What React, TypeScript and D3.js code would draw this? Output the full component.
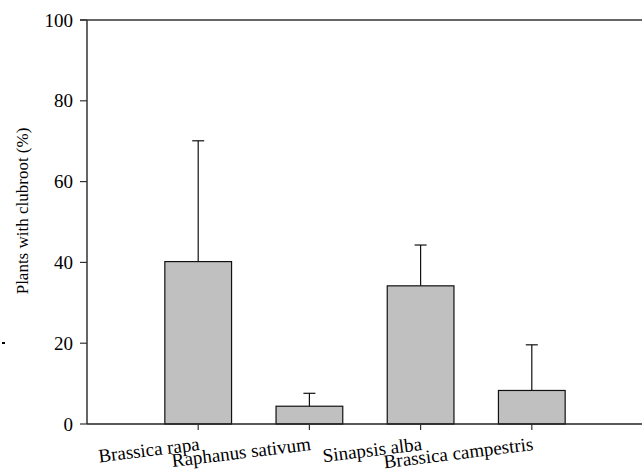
import React from 'react';
import * as d3 from 'd3';

// Clubroot incidence per host species (mean and upper error)
const species = ['Brassica rapa', 'Raphanus sativum', 'Sinapsis alba', 'Brassica campestris'];
const meanPct = [40.2, 4.4, 34.2, 8.3];
const errTop = [70.1, 7.6, 44.3, 19.6];
const yTicks = [0, 20, 40, 60, 80, 100];

const W = 642;
const H = 473;
const left = 87;
const right = 643;
const top = 20;
const bottom = 424;
const serif = { fontFamily: '"Liberation Serif"' };

export default function App() {
  const x = d3.scaleLinear().domain([0, species.length + 1]).range([left, right]);
  const y = d3.scaleLinear().domain([0, 100]).range([bottom, top]);
  const step = x(1) - x(0);
  const barW = step * 0.6;
  const capW = 12;

  return (
    <svg width={W} height={H} style={{ position: 'absolute', left: 0, top: 0, background: '#fff' }}>
      {/* frame lines */}
      <line x1={80} x2={right} y1={y(100)} y2={y(100)} stroke="#333" strokeWidth={1.5} />
      <line x1={left} x2={left} y1={top} y2={bottom} stroke="#333" strokeWidth={1.5} />

      {/* bars + upper error bars */}
      {species.map((s, i) => {
        const cx = x(i + 1);
        return (
          <g key={s}>
            <line x1={cx} x2={cx} y1={y(meanPct[i])} y2={y(errTop[i])} stroke="#111" strokeWidth={1.2} />
            <line x1={cx - capW / 2} x2={cx + capW / 2} y1={y(errTop[i])} y2={y(errTop[i])} stroke="#111" strokeWidth={1.2} />
            <rect
              x={cx - barW / 2}
              y={y(meanPct[i])}
              width={barW}
              height={bottom - y(meanPct[i])}
              fill="#c0c0c0"
              stroke="#111"
              strokeWidth={1.2}
            />
          </g>
        );
      })}

      <line x1={left} x2={right} y1={bottom} y2={bottom} stroke="#222" strokeWidth={1.5} />

      {/* y ticks */}
      {yTicks.map(t => (
        <g key={t}>
          <line x1={left - 7} x2={left} y1={y(t)} y2={y(t)} stroke="#333" strokeWidth={1.2} />
          <text x={left - 14} y={y(t)} dy="0.35em" textAnchor="end" fontSize={19} fill="#000" style={serif}>
            {t}
          </text>
        </g>
      ))}

      {/* x ticks + rotated labels */}
      {species.map((s, i) => {
        const cx = x(i + 1);
        return (
          <g key={'t' + s}>
            <line x1={cx} x2={cx} y1={bottom} y2={bottom + 6} stroke="#333" strokeWidth={1.2} />
            <text
              transform={`translate(${cx + 2},${bottom + 26}) rotate(-7)`}
              textAnchor="end"
              fontSize={19}
              fill="#000"
              style={serif}
            >
              {s}
            </text>
          </g>
        );
      })}

      {/* y axis title */}
      <text
        transform={`translate(28,211) rotate(-90)`}
        textAnchor="middle"
        fontSize={17}
        fill="#000"
        style={serif}
      >
        Plants with clubroot (%)
      </text>

      <rect x={2} y={342} width={3} height={2} fill="#000" />
    </svg>
  );
}
